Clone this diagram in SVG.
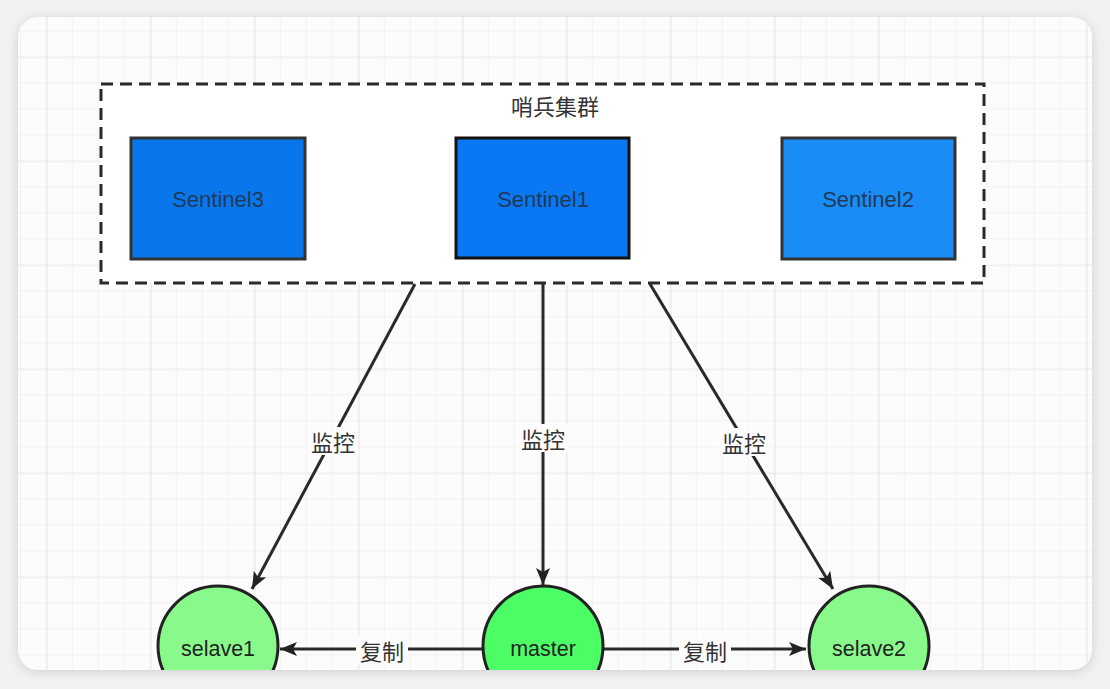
<svg xmlns="http://www.w3.org/2000/svg" width="1110" height="689" viewBox="0 0 1110 689">
<defs>
<pattern id="grid" x="20.7" y="5.3" width="26" height="26" patternUnits="userSpaceOnUse">
<path d="M26 0V26M0 26H26" fill="none" stroke="#e8e8e8" stroke-width="1"/>
</pattern>
<pattern id="gridM" x="46.7" y="57.3" width="104" height="104" patternUnits="userSpaceOnUse">
<path d="M0 0V104M0 0H104" fill="none" stroke="#e0e0e0" stroke-width="1.2"/>
</pattern>
<clipPath id="card"><rect x="18" y="17" width="1074" height="653" rx="20"/></clipPath>
<filter id="sh" x="-5%" y="-5%" width="110%" height="110%"><feGaussianBlur stdDeviation="6"/></filter>
<marker id="ahb" markerWidth="18" markerHeight="18" refX="17" refY="9" orient="auto" markerUnits="userSpaceOnUse" viewBox="0 0 18 18">
<path d="M0 2L17 9L0 16L4 9Z" fill="#222"/>
</marker>
</defs>
<style>
.cn{font-family:"Noto Sans CJK SC",sans-serif;font-size:22px;fill:#333;text-anchor:middle;dominant-baseline:central}
.nt{font-family:"Liberation Sans","Noto Sans",sans-serif;font-size:22px;fill:#1e3a5a;text-anchor:middle;dominant-baseline:central}
.ct{font-family:"Liberation Sans","Noto Sans",sans-serif;font-size:21.5px;fill:#222;text-anchor:middle;dominant-baseline:central}
.edge{fill:none;stroke:#2a2a2a;stroke-width:3;marker-end:url(#ahb)}
.circ{stroke:#222;stroke-width:3}
</style>
<rect width="1110" height="689" fill="#f2f2f2"/>
<rect x="18" y="19" width="1074" height="653" rx="20" fill="#cfcfcf" filter="url(#sh)"/>
<g clip-path="url(#card)">
<rect x="18" y="17" width="1074" height="653" fill="#fcfcfc"/>
<rect x="18" y="17" width="1074" height="653" fill="url(#grid)"/>
<rect x="18" y="17" width="1074" height="653" fill="url(#gridM)"/>

<g id="cluster">
<rect x="101" y="84" width="883" height="199" fill="#ffffff" stroke="#2a2a2a" stroke-width="3" stroke-dasharray="12 7"/>
<text class="cn" x="555" y="105">哨兵集群</text>
</g>
<g id="sentinel3">
<rect x="131" y="138" width="174" height="121" fill="#0a76ec" stroke="#333" stroke-width="3"/>
<text class="nt" x="218" y="199">Sentinel3</text>
</g>
<g id="sentinel1">
<rect x="456" y="138" width="173" height="120" fill="#0a78f2" stroke="#111" stroke-width="3"/>
<text class="nt" x="543" y="199">Sentinel1</text>
</g>
<g id="sentinel2">
<rect x="782" y="138" width="173" height="121" fill="#1a8cf6" stroke="#333" stroke-width="3"/>
<text class="nt" x="868" y="199">Sentinel2</text>
</g>

<g id="connectors">
<path class="edge" d="M415 284L252 589"/>
<path class="edge" d="M543 284L543 585"/>
<path class="edge" d="M650 284L833 589"/>
<path class="edge" d="M482 649L280 649"/>
<path class="edge" d="M604 649L806 649"/>
<rect x="308" y="427" width="50" height="28" fill="#fcfcfc"/>
<text class="cn" x="333" y="441">监控</text>
<rect x="518" y="424" width="50" height="28" fill="#fcfcfc"/>
<text class="cn" x="543" y="438">监控</text>
<rect x="719" y="428" width="50" height="28" fill="#fcfcfc"/>
<text class="cn" x="744" y="442">监控</text>
<rect x="356" y="636" width="52" height="28" fill="#fcfcfc"/>
<text class="cn" x="382" y="650">复制</text>
<rect x="679" y="636" width="52" height="28" fill="#fcfcfc"/>
<text class="cn" x="705" y="650">复制</text>
</g>

<g id="selave1">
<circle class="circ" cx="218" cy="646" r="60" fill="#88f98a"/>
<text class="ct" x="218" y="649">selave1</text>
</g>
<g id="master">
<circle class="circ" cx="543" cy="646" r="60" fill="#4cfd66"/>
<text class="ct" x="543" y="649">master</text>
</g>
<g id="selave2">
<circle class="circ" cx="869" cy="646" r="60" fill="#88f98a"/>
<text class="ct" x="869" y="649">selave2</text>
</g>
</g>
</svg>
